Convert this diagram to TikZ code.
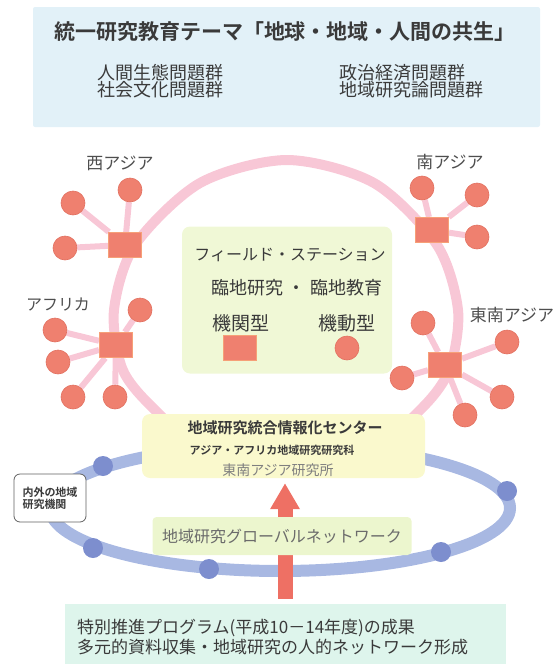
\documentclass[tikz,border=0pt]{standalone}
\usepackage{fontspec}
\setmainfont{Noto Sans CJK JP}[BoldFont={Noto Sans CJK JP Bold}]
\usetikzlibrary{calc,positioning,arrows.meta,backgrounds}

\definecolor{themeblue}{RGB}{226,241,248}
\definecolor{fieldgreen}{RGB}{240,248,214}
\definecolor{hubyellow}{RGB}{250,249,205}
\definecolor{netgreen}{RGB}{236,246,206}
\definecolor{progmint}{RGB}{222,245,236}
\definecolor{ringpink}{RGB}{248,199,214}
\definecolor{salmon}{RGB}{239,128,111}
\definecolor{salmonedge}{RGB}{246,160,120}
\definecolor{salmondark}{RGB}{226,112,96}
\definecolor{ringblue}{RGB}{168,184,226}
\definecolor{dotblue}{RGB}{125,142,206}
\definecolor{arrowred}{RGB}{238,112,100}
\definecolor{ink}{RGB}{58,58,58}

\begin{document}
\begin{tikzpicture}[x=1pt,y=-1pt,
	station/.style={rectangle,fill=salmon,draw=salmonedge,line width=1pt,minimum width=33pt,minimum height=25pt,inner sep=0pt},
	mobile/.style={circle,fill=salmon,draw=salmondark,line width=0.6pt,minimum size=24pt,inner sep=0pt},
	spoke/.style={draw=ringpink,line width=6pt},
	ring/.style={draw=ringpink,line width=10pt},
	bluering/.style={draw=ringblue,line width=12pt},
	bluedot/.style={circle,fill=dotblue,minimum size=20pt,inner sep=0pt},
	arealabel/.style={text=ink!90,font=\fontsize{17}{17}\selectfont},
	themegroup/.style={align=left,inner sep=0pt,text=ink,font=\fontsize{18}{17}\selectfont},
	panel/.style={rounded corners=8pt,inner sep=0pt},
	uparrow/.style={draw=arrowred,line width=15pt,-{Triangle[width=28pt,length=26pt]}}]
		\useasboundingbox (0,0) rectangle (559,664);
		\node[panel,rounded corners=2pt,fill=themeblue,minimum width=507pt,minimum height=120pt] (theme) at (286.5,67) {};
		\node[font=\bfseries\fontsize{21}{21}\selectfont,text=ink] (title) at (285,32) {統一研究教育テーマ「地球・地域・人間の共生」};
		\node[themegroup,anchor=west] (eco) at (97,81) {人間生態問題群\\社会文化問題群};
		\node[themegroup,anchor=west] (pol) at (339,81) {政治経済問題群\\地域研究論問題群};

		\node[panel,fill=fieldgreen,minimum width=210pt,minimum height=147pt] (field) at (287,300) {};
		\node[text=ink,font=\fontsize{16}{16}\selectfont] (fs) at (290,255) {フィールド・ステーション};
		\node[text=ink,font=\fontsize{18}{18}\selectfont] (rinchi) at (297,288) {臨地研究 ・ 臨地教育};
		\node[text=ink,font=\fontsize{19}{19}\selectfont] (kikan) at (241,323) {機関型};
		\node[text=ink,font=\fontsize{19}{19}\selectfont] (kidou) at (347,323) {機動型};
		\node[station] (kikanmark) at (240,348) {};
		\node[mobile] (kidoumark) at (347,348) {};

		\node[station] (wasia) at (125,245) {};
		\node[station] (africa) at (116,345) {};
		\node[station] (sasia) at (432,230) {};
		\node[station] (seasia) at (445,365) {};
		\foreach \x/\y [count=\i] in {130/190,73/203,65/248} \node[mobile] (wa\i) at (\x,\y) {};
		\foreach \x/\y [count=\i] in {140/310,55/330,58/362,73/397,115/397} \node[mobile] (af\i) at (\x,\y) {};
		\foreach \x/\y [count=\i] in {422/188,477/195,477/237} \node[mobile] (sa\i) at (\x,\y) {};
		\foreach \x/\y [count=\i] in {423/323,507/342,402/378,502/397,465/415} \node[mobile] (sea\i) at (\x,\y) {};
		\node[arealabel] (walabel) at (120,163) {西アジア};
		\node[arealabel,font=\fontsize{16}{16}\selectfont] (aflabel) at (58,305) {アフリカ};
		\node[arealabel] (salabel) at (450,162) {南アジア};
		\node[arealabel] (sealabel) at (512,315) {東南アジア};

		\node[panel,fill=hubyellow,minimum width=283pt,minimum height=64pt] (hub) at (283.5,446) {};
		\node[text=ink,font=\bfseries\fontsize{15}{15}\selectfont] (hubtitle) at (285,428) {地域研究統合情報化センター};
		\node[text=ink,font=\bfseries\fontsize{11}{11}\selectfont] (hubschool) at (272,450) {アジア・アフリカ地域研究研究科};
		\node[text=ink!65,font=\fontsize{14}{14}\selectfont] (hubcsea) at (278,470) {東南アジア研究所};

		\node[panel,rounded corners=6pt,draw=ink!80,line width=0.8pt,fill=white,minimum width=72pt,minimum height=48pt,align=left,text=ink,font=\bfseries\fontsize{11}{12}\selectfont] (inst) at (50,498) {内外の地域\\研究機関};
		\foreach \x/\y [count=\i] in {103/466,93/548,209/569,441/552,507/491} \node[bluedot] (bd\i) at (\x,\y) {};

		\node[panel,rounded corners=0pt,fill=progmint,minimum width=441pt,minimum height=64pt] (prog) at (285,636) {};
		\node[anchor=west,align=left,inner sep=0pt,text=ink,font=\fontsize{17}{20}\selectfont] (progtext) at (77,637) {特別推進プログラム(平成10－14年度)の成果\\多元的資料収集・地域研究の人的ネットワーク形成};

		\draw[uparrow,shorten <=5pt,shorten >=5pt] (prog.north) -- (prog.north |- hub.south);
		\node[panel,rounded corners=4pt,fill=netgreen,minimum width=259pt,minimum height=38pt,text=ink!75,font=\fontsize{16}{16}\selectfont] (net) at (282,536) {地域研究グローバルネットワーク};

		\begin{pgfonlayer}{background}
			\draw[ring] plot[smooth cycle] coordinates {(287,160) (374,183) (437,245) (458,310) (450,368) (425,405) (380,440) (287,460) (195,440) (150,405) (122,368) (114,310) (135,245) (200,183)};
			\foreach \i in {1,2,3} \draw[spoke] (wasia) -- (wa\i);
			\foreach \i in {1,...,5} \draw[spoke] (africa) -- (af\i);
			\foreach \i in {1,2,3} \draw[spoke] (sasia) -- (sa\i);
			\foreach \i in {1,...,5} \draw[spoke] (seasia) -- (sea\i);
			\draw[bluering] (280,508) ellipse [x radius=230, y radius=63];
		\end{pgfonlayer}
	\end{tikzpicture}
\end{document}
